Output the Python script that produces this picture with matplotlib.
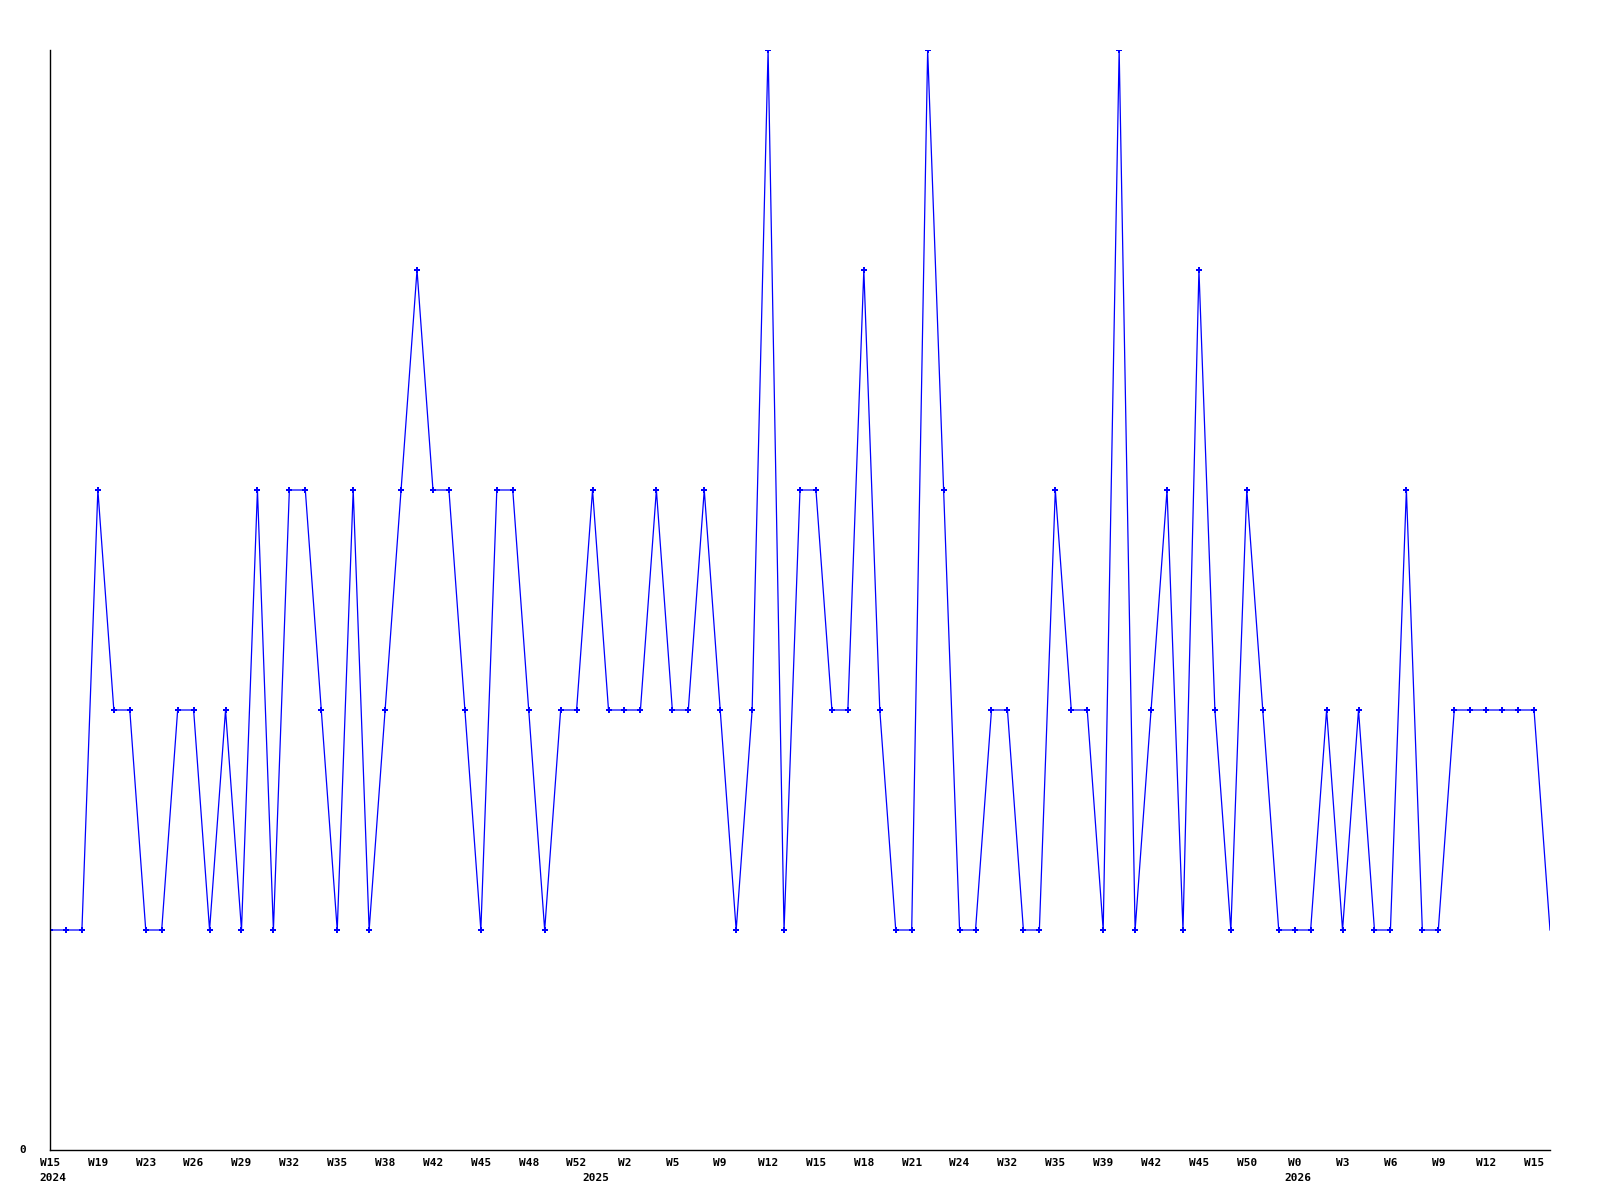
import matplotlib
matplotlib.use("Agg")
import matplotlib.pyplot as plt

# weekly values (one per week)
values = [1, 1, 1, 3, 2, 2, 1, 1, 2, 2,
          1, 2, 1, 3, 1, 3, 3, 2, 1, 3,
          1, 2, 3, 4, 3, 3, 2, 1, 3, 3,
          2, 1, 2, 2, 3, 2, 2, 2, 3, 2,
          2, 3, 2, 1, 2, 5, 1, 3, 3, 2,
          2, 4, 2, 1, 1, 5, 3, 1, 1, 2,
          2, 1, 1, 3, 2, 2, 1, 5, 1, 2,
          3, 1, 4, 2, 1, 3, 2, 1, 1, 1,
          2, 1, 2, 1, 1, 3, 1, 1, 2, 2,
          2, 2, 2, 2, 1]

week_labels = ["W15", "W19", "W23", "W26", "W29", "W32", "W35", "W38", "W42", "W45",
               "W48", "W52", "W2", "W5", "W9", "W12", "W15", "W18", "W21", "W24",
               "W32", "W35", "W39", "W42", "W45", "W50", "W0", "W3", "W6", "W9",
               "W12", "W15"]
label_step = 3
year_labels = ["2024", "2025", "2026"]
year_positions = [0, 34, 78]

fig = plt.figure(figsize=(16, 12), dpi=100)
ax = fig.add_axes([50 / 1600, 50 / 1200, 1500 / 1600, 1100 / 1200])

x = list(range(len(values)))
ax.plot(x, values, color=(0, 0, 1), lw=0.9, marker='P', markersize=5,
        markeredgewidth=0, markevery=list(range(len(values) - 1)))

ax.set_xlim(0, len(values) - 1)
ax.set_ylim(0, 5)

for s in ["top", "right"]:
    ax.spines[s].set_visible(False)
for s in ["left", "bottom"]:
    ax.spines[s].set_linewidth(1.0)
    ax.spines[s].set_color("black")

font = dict(family="DejaVu Sans Mono", weight="bold", size=8)

ax.set_xticks([i * label_step for i in range(len(week_labels))])
ax.set_xticklabels(week_labels, fontdict=font)
ax.tick_params(axis="x", length=0, pad=6)
ax.set_yticks([0])
ax.set_yticklabels(["0"], fontdict=font)
ax.tick_params(axis="y", length=0, pad=17.5)
for lbl in ax.get_yticklabels():
    lbl.set_verticalalignment("center")

for yl, xp in zip(year_labels, year_positions):
    ax.annotate(yl, xy=(xp, 0), xycoords=("data", "axes fraction"),
                xytext=(3, -23), textcoords="offset pixels",
                ha="center", va="top", **font)

fig.savefig("out.png", dpi=100)
